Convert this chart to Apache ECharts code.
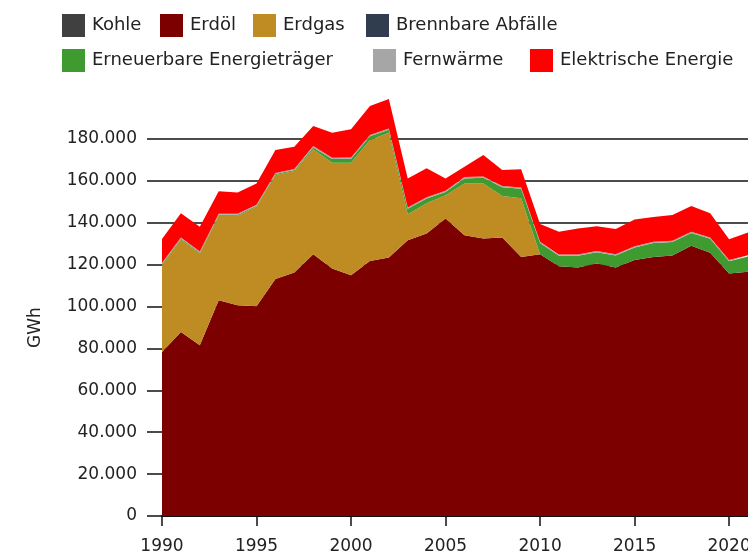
<!DOCTYPE html>
<html>
<head>
<meta charset="utf-8">
<script src="https://cdn.jsdelivr.net/npm/echarts@6/dist/echarts.min.js"></script>
<style>
  html, body { margin: 0; padding: 0; background: #fff; }
  #chart { width: 748px; height: 552px; }
</style>
</head>
<body>
<div id="chart"></div>
<script>
// Jahre 1990 - 2021
const years = [
  "1990", "1991", "1992", "1993", "1994", "1995", "1996", "1997", "1998", "1999",
  "2000", "2001", "2002", "2003", "2004", "2005", "2006", "2007", "2008", "2009",
  "2010", "2011", "2012", "2013", "2014", "2015", "2016", "2017", "2018", "2019",
  "2020", "2021",
];

// Werte in GWh
const kohle = [
  0, 0, 0, 0, 0, 0, 0, 0, 0, 0,
  0, 0, 0, 0, 0, 0, 0, 0, 0, 0,
  0, 0, 0, 0, 0, 0, 0, 0, 0, 0,
  0, 0,
];
const erdoel = [
  78300, 87900, 81500, 103000, 100600, 100200, 113100, 116300, 125000, 118200,
  115000, 121700, 123400, 131700, 134900, 142100, 134100, 132500, 133000, 123700,
  125000, 119300, 118700, 120600, 118700, 122200, 123700, 124400, 129000, 125700,
  115800, 116600,
];
const erdgas = [
  41500, 44100, 43800, 40300, 42700, 47400, 49700, 48400, 50100, 50500,
  53700, 57800, 59600, 12400, 14400, 11100, 24700, 26300, 19800, 28000,
  0, 0, 0, 0, 0, 0, 0, 0, 0, 0,
  0, 0,
];
const abfaelle = [
  0, 0, 0, 0, 0, 0, 0, 0, 0, 0,
  0, 0, 0, 0, 0, 0, 0, 0, 0, 0,
  0, 0, 0, 0, 0, 0, 0, 0, 0, 0,
  0, 0,
];
const erneuerbare = [
  500, 500, 500, 500, 500, 500, 500, 500, 900, 1800,
  1900, 1800, 1400, 2600, 2300, 1500, 2400, 2700, 4200, 4500,
  5300, 5000, 5600, 5300, 5700, 6000, 6600, 6400, 6100, 6700,
  5800, 7300,
];
const fernwaerme = [
  500, 500, 500, 500, 500, 500, 500, 500, 600, 600,
  600, 600, 600, 600, 600, 600, 600, 600, 600, 600,
  600, 600, 600, 600, 600, 600, 600, 600, 600, 600,
  600, 600,
];
const elektrisch = [
  11400, 11500, 11800, 10800, 10200, 10200, 10900, 10600, 9600, 11900,
  13400, 13900, 14100, 13900, 13800, 5900, 5000, 10300, 7600, 8700,
  8500, 10800, 12400, 11900, 12000, 12800, 11800, 12300, 12300, 11500,
  9900, 10900,
];

const seriesDefs = [
  { name: "Kohle", data: kohle, color: "#404040" },
  { name: "Erdöl", data: erdoel, color: "#7d0000" },
  { name: "Erdgas", data: erdgas, color: "#bf8b23" },
  { name: "Brennbare Abfälle", data: abfaelle, color: "#303d4f" },
  { name: "Erneuerbare Energieträger", data: erneuerbare, color: "#3f9a2f" },
  { name: "Fernwärme", data: fernwaerme, color: "#a6a6a6" },
  { name: "Elektrische Energie", data: elektrisch, color: "#ff0000" },
];

const legendPos = [
  { name: "Kohle", left: 62, top: 14 },
  { name: "Erdöl", left: 160, top: 14 },
  { name: "Erdgas", left: 253, top: 14 },
  { name: "Brennbare Abfälle", left: 366, top: 14 },
  { name: "Erneuerbare Energieträger", left: 62, top: 49 },
  { name: "Fernwärme", left: 373, top: 49 },
  { name: "Elektrische Energie", left: 530, top: 49 },
];

const fmt = (v) => String(v).replace(/\B(?=(\d{3})+(?!\d))/g, ".");
const font = "DejaVu Sans";

const chart = echarts.init(document.getElementById("chart"), null, { renderer: "canvas" });
chart.setOption({
  animation: false,
  backgroundColor: "#fff",
  legend: legendPos.map((l) => ({
    data: [l.name],
    left: l.left,
    top: l.top,
    padding: 0,
    icon: "rect",
    itemWidth: 23,
    itemHeight: 23,
    selectedMode: false,
    textStyle: { fontFamily: font, fontSize: 18, color: "#222", padding: [0, 0, 0, 2] },
  })),
  grid: { left: 162, right: 0, top: 139, bottom: 36, containLabel: false, outerBoundsMode: "none" },
  xAxis: {
    type: "category",
    data: years,
    boundaryGap: false,
    axisLine: { lineStyle: { color: "#111", width: 2 } },
    axisTick: { interval: 4, length: 10, lineStyle: { color: "#111", width: 1.5 } },
    axisLabel: { interval: 4, margin: 22, fontFamily: font, fontSize: 17, color: "#222" },
    splitLine: { show: false },
  },
  yAxis: {
    type: "value",
    min: 0,
    max: 180000,
    interval: 20000,
    name: "GWh",
    nameLocation: "middle",
    nameGap: 118,
    nameTextStyle: { fontFamily: font, fontSize: 17, color: "#222" },
    axisLine: { show: false },
    axisTick: { show: true, length: 15, lineStyle: { color: "#111", width: 1.5 } },
    axisLabel: { margin: 25, fontFamily: font, fontSize: 17, color: "#222", formatter: fmt },
    splitLine: { show: true, lineStyle: { color: "#111", width: 1.5 } },
  },
  series: seriesDefs.map((s) => ({
    name: s.name,
    type: "line",
    stack: "total",
    data: s.data,
    clip: false,
    symbol: "none",
    showSymbol: false,
    color: s.color,
    lineStyle: { width: 0 },
    areaStyle: { color: s.color, opacity: 1 },
    emphasis: { disabled: true },
  })),
});
</script>
</body>
</html>
